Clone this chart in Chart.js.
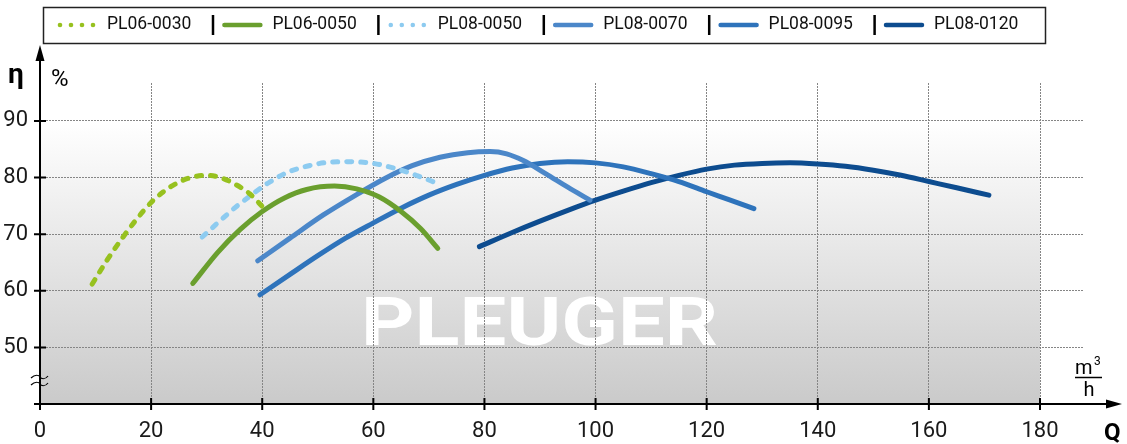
<!DOCTYPE html>
<html>
<head>
<meta charset="utf-8">
<script src="https://cdn.jsdelivr.net/npm/chart.js"></script>
<style>
  html, body { margin: 0; padding: 0; background: #fff; }
  #wrap { position: relative; width: 1127px; height: 444px; }
</style>
</head>
<body>
<div id="wrap"><canvas id="eff" width="1127" height="444"></canvas></div>
<script>
// pump curves: Q in m3/h, efficiency in %
const names = ['PL06-0030', 'PL06-0050', 'PL08-0050', 'PL08-0070', 'PL08-0095', 'PL08-0120'];

const q0030 = [9.4, 12.0, 14.8, 17.6, 20.0, 22.5, 25.0, 27.5, 30.0, 32.5, 35.0, 37.8, 40.1];
const e0030 = [61.2, 65.3, 69.3, 72.9, 75.6, 77.7, 79.2, 80.1, 80.4, 80.0, 78.9, 77.1, 74.8];

const q0650 = [27.5, 32.0, 36.0, 40.0, 44.0, 48.0, 53.0, 57.0, 61.0, 65.0, 68.5, 71.6];
const e0650 = [61.3, 66.8, 70.8, 74.0, 76.4, 77.9, 78.5, 78.0, 76.6, 74.0, 71.0, 67.5];

const q0850 = [29.2, 32.0, 35.0, 38.0, 41.0, 44.5, 48.0, 52.0, 56.0, 60.0, 64.0, 68.0, 71.5];
const e0850 = [69.5, 72.0, 74.6, 76.9, 79.0, 80.9, 82.0, 82.7, 82.8, 82.5, 81.6, 80.3, 79.0];

const q0870 = [39.2, 45.0, 51.0, 57.0, 62.0, 67.0, 72.0, 77.0, 81.0, 84.0, 87.0, 91.0, 95.0, 99.0];
const e0870 = [65.3, 69.3, 73.4, 77.0, 79.8, 82.1, 83.6, 84.4, 84.6, 84.2, 83.0, 80.7, 78.3, 76.0];

const q0895 = [39.6, 45, 50, 55, 60, 65, 70, 75, 80, 85, 90, 95, 100, 105, 110, 115, 120, 124, 128.5];
const e0895 = [59.3, 62.9, 66.2, 69.3, 72.0, 74.6, 76.9, 78.8, 80.4, 81.7, 82.5, 82.8, 82.6, 81.9, 80.7, 79.3, 77.5, 76.1, 74.5];

const q0120 = [79.1, 85, 90, 95, 100, 105, 110, 115, 120, 125, 130, 135, 140, 145, 150, 155, 160, 165, 170.8];
const e0120 = [67.8, 70.3, 72.3, 74.2, 76.0, 77.6, 79.1, 80.4, 81.5, 82.2, 82.5, 82.6, 82.4, 82.0, 81.3, 80.4, 79.3, 78.2, 76.9];

const xTicks = [0, 20, 40, 60, 80, 100, 120, 140, 160, 180];
const yTicks = [50, 60, 70, 80, 90];

const qs = [q0030, q0650, q0850, q0870, q0895, q0120];
const es = [e0030, e0650, e0850, e0870, e0895, e0120];
const colors = ['#97c11f', '#6a9f2e', '#8dcbf0', '#4b87c9', '#2e73bb', '#0d4c8f'];
const dotted = [true, false, true, false, false, false];

const FONT = 'Roboto, "Liberation Sans", sans-serif';

const decor = {
  id: 'decor',
  beforeDraw(chart) {
    const ctx = chart.ctx, x = chart.scales.x, y = chart.scales.y;
    const l = x.getPixelForValue(0), r = x.getPixelForValue(180);
    const t = y.getPixelForValue(90), b = y.getPixelForValue(40);
    ctx.save();
    const g = ctx.createLinearGradient(0, t, 0, b);
    g.addColorStop(0, '#ffffff');
    g.addColorStop(1, '#cacaca');
    ctx.fillStyle = g;
    ctx.fillRect(l, t, r - l, b - t);
    // watermark
    ctx.font = 'bold 67px Roboto, sans-serif';
    const w = ctx.measureText('PLEUGER').width;
    ctx.translate(361, 345);
    ctx.scale(357 / w, 1);
    ctx.fillStyle = '#ffffff';
    ctx.textBaseline = 'alphabetic';
    ctx.fillText('PLEUGER', 0, 0);
    ctx.restore();
  },
  afterDraw(chart) {
    const ctx = chart.ctx, x = chart.scales.x, y = chart.scales.y;
    const ox = x.getPixelForValue(0), oy = y.getPixelForValue(40);
    ctx.save();
    ctx.strokeStyle = '#000';
    ctx.fillStyle = '#000';
    ctx.lineWidth = 2;
    // axes
    ctx.beginPath();
    ctx.moveTo(ox, oy + 6); ctx.lineTo(ox, 58);
    ctx.moveTo(ox - 6, oy); ctx.lineTo(1108, oy);
    yTicks.forEach(v => { const p = y.getPixelForValue(v); ctx.moveTo(ox - 6, p); ctx.lineTo(ox + 6, p); });
    xTicks.slice(1).forEach(v => { const p = x.getPixelForValue(v); ctx.moveTo(p, oy - 6); ctx.lineTo(p, oy + 6); });
    ctx.stroke();
    ctx.beginPath();
    ctx.moveTo(ox, 45); ctx.lineTo(ox - 4.5, 61); ctx.lineTo(ox + 4.5, 61); ctx.closePath();
    ctx.moveTo(1122, oy); ctx.lineTo(1106, oy - 4.5); ctx.lineTo(1106, oy + 4.5); ctx.closePath();
    ctx.fill();
    // axis break
    ctx.lineWidth = 1.2;
    [377, 384].forEach(yy => {
      ctx.beginPath();
      ctx.moveTo(31, yy + 1);
      ctx.bezierCurveTo(35, yy - 3, 39, yy - 2, 40, yy);
      ctx.bezierCurveTo(41, yy + 2, 45, yy + 3, 48, yy - 1);
      ctx.stroke();
    });
    // axis titles
    ctx.textBaseline = 'alphabetic';
    ctx.textAlign = 'left';
    ctx.font = 'bold 28px ' + FONT;
    ctx.fillText('η', 8, 83);
    ctx.font = '24px ' + FONT;
    ctx.fillText('%', 51, 86);
    ctx.font = 'bold 24px ' + FONT;
    ctx.fillText('Q', 1104, 440);
    ctx.font = '20px ' + FONT;
    ctx.fillText('m', 1075, 374);
    ctx.font = '12px ' + FONT;
    ctx.fillText('3', 1094, 365);
    ctx.font = '20px ' + FONT;
    ctx.textAlign = 'center';
    ctx.fillText('h', 1089, 396);
    ctx.lineWidth = 1.5;
    ctx.beginPath(); ctx.moveTo(1075, 377.5); ctx.lineTo(1102, 377.5); ctx.stroke();

    // legend
    ctx.lineWidth = 1.5;
    ctx.strokeStyle = '#222';
    ctx.strokeRect(43.5, 7.5, 1002, 36);
    ctx.font = '17.5px ' + FONT;
    ctx.textAlign = 'left';
    ctx.textBaseline = 'middle';
    chart.data.datasets.forEach((ds, i) => {
      const tx = 107 + 165.4 * i, ly = 25;
      ctx.strokeStyle = ds.borderColor;
      ctx.fillStyle = ds.borderColor;
      if (dotted[i]) {
        for (let k = 0; k < 4; k++) {
          ctx.beginPath();
          ctx.arc(tx - 47 + k * 11, ly, 2.3, 0, Math.PI * 2);
          ctx.fill();
        }
      } else {
        ctx.lineWidth = 4.5;
        ctx.lineCap = 'round';
        ctx.beginPath(); ctx.moveTo(tx - 48, ly); ctx.lineTo(tx - 12, ly); ctx.stroke();
      }
      ctx.fillStyle = '#111';
      ctx.fillText(ds.label, tx, ly);
      if (i < chart.data.datasets.length - 1) {
        ctx.strokeStyle = '#000';
        ctx.lineWidth = 2.5;
        ctx.lineCap = 'butt';
        ctx.beginPath(); ctx.moveTo(tx + 106, 15); ctx.lineTo(tx + 106, 35); ctx.stroke();
      }
    });
    ctx.restore();
  }
};

new Chart(document.getElementById('eff'), {
  type: 'line',
  data: {
    datasets: names.map((n, i) => ({
      label: n,
      data: qs[i].map((q, j) => ({ x: q, y: es[i][j] })),
      borderColor: colors[i],
      borderWidth: 5,
      borderDash: dotted[i] ? [5, 9] : [],
      borderCapStyle: 'round',
      cubicInterpolationMode: 'monotone',
      pointRadius: 0,
      fill: false
    }))
  },
  options: {
    responsive: false,
    animation: false,
    events: [],
    layout: { padding: { top: 83, right: 43, left: 0, bottom: 0 } },
    plugins: { legend: { display: false }, tooltip: { enabled: false } },
    scales: {
      x: {
        type: 'linear', min: 0, max: 187.92,
        afterBuildTicks: s => { s.ticks = xTicks.map(v => ({ value: v })); },
        afterFit: s => { s.height = 40; },
        grid: { color: c => (c.tick && c.tick.value === 0) ? 'rgba(0,0,0,0)' : '#858585', drawTicks: false },
        border: { display: false, dash: [2, 1] },
        ticks: { padding: 14, autoSkip: false, maxRotation: 0, color: '#1a1a1a', font: { family: FONT, size: 22 } }
      },
      y: {
        type: 'linear', min: 40, max: 96.71,
        afterBuildTicks: s => { s.ticks = yTicks.map(v => ({ value: v })); },
        afterFit: s => { s.width = 40; },
        grid: { color: '#858585', drawTicks: false },
        border: { display: false, dash: [2, 1] },
        ticks: { padding: 12, color: '#1a1a1a', font: { family: FONT, size: 22 } }
      }
    }
  },
  plugins: [decor]
});
</script>
</body>
</html>
